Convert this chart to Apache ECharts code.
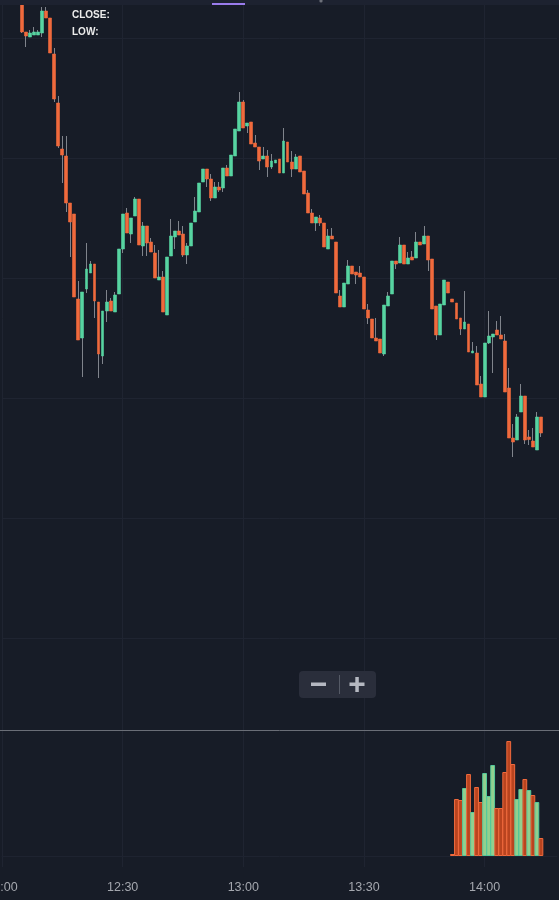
<!DOCTYPE html>
<html><head><meta charset="utf-8">
<script src="https://cdn.jsdelivr.net/npm/echarts@6/dist/echarts.min.js"></script>
<style>html,body{margin:0;padding:0;background:#171c27;}#c{width:559px;height:900px;}</style>
</head><body><div id="c"></div>
<script>
// ---- data ----
const firstMinute = '12:00';
const categoryCount = 139; // one category per minute, 12:00 .. 14:18
const tickLabels = ['12:00', '12:30', '13:00', '13:30', '14:00'];
const candleStart = '12:05';
const openP = [
  124.6,120.6,120.1,120.3,120.3,120.5,122.7,122.0,118.4,113.5,
  108.9,108.2,103.5,102.4,93.9,90.0,94.9,96.5,97.4,93.6,
  88.2,92.7,93.7,92.6,94.4,98.9,102.5,100.4,102.2,103.9,
  99.2,101.2,99.6,98.5,95.8,96.1,92.3,98.2,100.1,100.7,
  100.4,98.3,99.2,101.6,102.6,105.6,106.9,105.9,104.0,105.1,
  105.0,107.0,106.2,108.2,110.7,113.6,111.2,111.6,109.5,109.1,
  107.9,108.2,107.1,107.5,107.9,106.5,109.6,107.6,106.9,108.2,
  106.7,104.5,102.5,101.5,102.0,101.5,98.9,100.2,99.6,94.2,
  93.1,95.4,97.2,96.6,96.5,96.1,92.8,91.9,90.0,89.9,
  88.4,93.2,94.4,97.7,97.5,99.3,97.4,98.1,98.0,99.6,
  99.4,100.2,97.9,93.2,90.3,93.3,95.6,93.9,93.5,92.0,
  90.9,91.4,88.5,88.5,85.4,84.1,89.5,90.1,90.8,90.3,
  89.7,85.0,80.0,79.8,82.6,84.2,80.1,79.7,78.8,82.1
];
const closeP = [
  120.6,120.2,120.5,120.6,120.6,122.7,122.0,118.5,113.9,109.2,
  108.3,103.5,101.6,94.1,89.8,94.6,96.9,97.4,93.7,88.4,
  92.7,93.6,92.7,94.3,98.9,102.4,100.5,102.0,103.9,99.3,
  101.2,99.5,98.6,96.0,96.1,92.6,98.1,100.2,100.7,100.3,
  98.3,99.2,101.5,102.7,105.5,106.9,105.9,104.0,105.1,104.8,
  107.0,106.2,108.3,110.9,113.6,111.0,111.5,109.4,109.1,107.7,
  108.2,107.1,107.7,107.8,106.5,109.7,107.6,106.9,108.1,106.6,
  104.4,102.5,101.5,102.1,101.5,99.1,100.2,99.9,94.5,93.1,
  95.5,97.2,96.4,96.3,96.1,92.9,92.0,90.0,89.7,88.5,
  93.3,94.2,97.7,97.4,99.3,97.4,98.0,97.8,99.6,99.3,
  100.2,97.8,92.9,90.3,93.4,95.8,94.5,93.6,91.9,90.9,
  91.6,88.6,88.7,85.3,84.1,89.5,90.2,90.4,90.3,89.9,
  84.6,80.0,79.6,82.1,84.2,79.8,79.85,79.1,82.1,80.5
];
const lowP = [
  120.5,119.1,120.1,120.3,120.3,120.1,122.0,118.5,113.6,109.0,
  105.5,102.6,98.1,94.1,89.8,86.1,94.5,96.5,92.0,86.0,
  87.4,91.6,92.7,92.6,94.4,98.5,100.5,99.5,102.2,99.3,
  98.2,98.2,98.6,96.0,95.8,92.6,92.3,98.2,98.9,100.3,
  98.1,97.4,99.2,101.6,102.6,105.6,105.1,103.7,104.0,104.6,
  104.6,106.2,106.2,108.2,110.7,111.0,110.5,109.4,109.1,106.8,
  107.9,106.1,106.9,107.5,106.5,106.5,107.6,106.1,106.9,106.6,
  104.4,102.5,101.5,100.7,101.2,99.1,98.9,99.9,94.5,93.1,
  93.1,95.4,96.4,95.4,96.1,92.9,91.4,90.0,89.7,88.5,
  88.2,93.2,94.4,96.9,97.5,97.4,97.4,97.8,98.0,99.3,
  99.4,96.7,92.9,89.8,90.3,93.3,94.5,93.6,91.9,90.3,
  90.9,88.6,88.5,85.3,84.1,84.1,89.4,86.5,90.3,89.9,
  84.6,80.0,78.1,79.8,82.6,79.4,79.3,79.1,78.8,80.1
];
const highP = [
  125.3,120.6,120.8,121.1,120.8,123.1,123.1,122.0,119.0,114.2,
  110.2,110.2,103.5,102.4,95.7,94.6,99.5,97.7,97.4,93.6,
  92.7,94.8,94.0,94.6,98.9,102.4,103.0,102.0,104.1,103.9,
  101.6,101.2,100.0,99.3,98.8,96.7,98.1,101.9,100.7,101.7,
  101.2,99.5,101.5,104.1,105.5,106.9,106.9,106.4,105.6,105.6,
  107.0,107.3,108.3,110.9,114.6,113.8,111.5,111.6,110.3,109.1,
  109.1,108.8,108.4,107.8,107.9,111.0,109.6,108.7,108.4,108.2,
  106.7,104.8,102.9,102.1,102.3,101.5,100.9,101.0,99.6,94.8,
  95.5,97.8,97.2,96.6,97.2,96.1,93.4,91.9,92.0,89.9,
  93.3,94.6,97.7,97.7,100.1,99.3,98.6,98.7,100.6,99.6,
  101.2,100.2,97.9,93.2,93.4,95.8,95.6,93.9,93.5,92.0,
  94.7,91.4,89.6,89.2,86.2,89.5,92.7,90.4,91.7,92.2,
  90.4,87.0,81.4,82.4,85.4,84.2,80.8,81.0,82.6,82.1
];
const volumeStart = '13:52';
const volume = [20,570,560,680,820,440,690,540,830,600,910,480,480,840,1150,920,570,670,770,660,610,540,180];

// ---- build ----
const categories = [];
{
  const [h0, m0] = firstMinute.split(':').map(Number);
  for (let k = 0; k < categoryCount; k++) {
    const m = h0 * 60 + m0 + k;
    categories.push(String(Math.floor(m / 60)).padStart(2, '0') + ':' + String(m % 60).padStart(2, '0'));
  }
}
const ci = categories.indexOf(candleStart);
const vi = categories.indexOf(volumeStart);
const wickData = openP.map((o, j) => [ci + j, o, closeP[j], lowP[j], highP[j]]);
const bodyData = openP.map((o, j) => [ci + j, o, closeP[j], Math.min(o, closeP[j]), Math.max(o, closeP[j])]);

const UP = '#57d4a1', DOWN = '#f06a3d', WICK = '#80848c';
const volData = volume.map((v, j) => {
  const k = vi + j, c = k - ci;
  const up = closeP[c] >= closeP[c - 1];
  return {
    value: [k, v],
    itemStyle: up ? { color: '#93cf8e', borderColor: '#52c99b', borderWidth: 1 }
                  : { color: '#b9441f', borderColor: '#f06a3d', borderWidth: 1 }
  };
});

const GRID = '#1f2431';
const tickFn = (idx, val) => tickLabels.indexOf(val) >= 0;

const chart = echarts.init(document.getElementById('c'), null, { renderer: 'canvas' });
chart.setOption({
  backgroundColor: '#171c27',
  animation: false,
  grid: [
    { left: 2, right: 2, top: -82, bottom: 262, containLabel: false, outerBoundsMode: 'none' },
    { left: 2, right: 2, top: 636, bottom: 33, containLabel: false, outerBoundsMode: 'none' }
  ],
  xAxis: [
    { type: 'category', gridIndex: 0, data: categories, boundaryGap: false,
      axisLine: { show: false }, axisTick: { show: false }, axisLabel: { show: false },
      splitLine: { show: true, interval: tickFn, lineStyle: { color: GRID, width: 1 } } },
    { type: 'category', gridIndex: 1, data: categories, boundaryGap: false,
      axisLine: { show: true, lineStyle: { color: '#1e2330' } }, axisTick: { show: false },
      axisLabel: { show: true, interval: tickFn, color: '#a4a7ae', fontSize: 12.5,
        fontFamily: 'Liberation Sans, Arial, sans-serif', margin: 14 },
      splitLine: { show: true, interval: tickFn, lineStyle: { color: GRID, width: 1 } } }
  ],
  yAxis: [
    { type: 'value', gridIndex: 0, position: 'right', min: 60, max: 132, interval: 12,
      axisLine: { show: false }, axisTick: { show: false }, axisLabel: { show: false },
      splitLine: { show: true, lineStyle: { color: GRID, width: 1 } } },
    { type: 'value', gridIndex: 1, position: 'right', min: -110, max: 2200,
      axisLine: { show: false }, axisTick: { show: false }, axisLabel: { show: false },
      splitLine: { show: false } }
  ],
  series: [
    { type: 'candlestick', xAxisIndex: 0, yAxisIndex: 0, data: wickData,
      encode: { x: 0, y: [1, 2, 3, 4] }, barWidth: 1, clip: false,
      itemStyle: { color: WICK, color0: WICK, borderColor: WICK, borderColor0: WICK, borderWidth: 1 },
      emphasis: { disabled: true }, silent: true, z: 2 },
    { type: 'candlestick', xAxisIndex: 0, yAxisIndex: 0, data: bodyData,
      encode: { x: 0, y: [1, 2, 3, 4] }, barWidth: 3.4, clip: false,
      itemStyle: { color: UP, color0: DOWN, borderColor: UP, borderColor0: DOWN, borderWidth: 0.6 },
      emphasis: { disabled: true }, silent: true, z: 3 },
    { type: 'bar', xAxisIndex: 1, yAxisIndex: 1, data: volData, barWidth: 4.8,
      encode: { x: 0, y: 1 }, silent: true, z: 2 }
  ],
  graphic: [
    { type: 'rect', shape: { x: 0, y: 0, width: 559, height: 5 }, style: { fill: '#1d2230' }, z: 100 },
    { type: 'rect', shape: { x: 212, y: 3, width: 33, height: 2 }, style: { fill: '#9a7cec' }, z: 101 },
    { type: 'circle', shape: { cx: 321, cy: 1, r: 1.6 }, style: { fill: '#6c7079' }, z: 101 },
    { type: 'line', shape: { x1: 0, y1: 730.5, x2: 559, y2: 730.5 }, style: { stroke: '#6a6e77', lineWidth: 1 }, z: 100 },
    { type: 'text', x: 72, y: 15.5, style: { text: 'CLOSE:', fill: '#ececec', font: 'bold 10px "Liberation Sans", Arial, sans-serif', verticalAlign: 'middle' }, z: 101 },
    { type: 'text', x: 72, y: 32.5, style: { text: 'LOW:', fill: '#ececec', font: 'bold 10px "Liberation Sans", Arial, sans-serif', verticalAlign: 'middle' }, z: 101 },
    { type: 'rect', shape: { x: 299, y: 671, width: 77, height: 27, r: 4 }, style: { fill: '#2a2e3b' }, z: 100 },
    { type: 'rect', shape: { x: 311, y: 682.5, width: 15, height: 3.5 }, style: { fill: '#b5b8c1' }, z: 101 },
    { type: 'line', shape: { x1: 339.5, y1: 675, x2: 339.5, y2: 694 }, style: { stroke: '#555a66', lineWidth: 1 }, z: 101 },
    { type: 'rect', shape: { x: 349.5, y: 682.5, width: 15, height: 3.5 }, style: { fill: '#b5b8c1' }, z: 101 },
    { type: 'rect', shape: { x: 355.3, y: 677, width: 3.5, height: 15 }, style: { fill: '#b5b8c1' }, z: 101 }
  ]
});
</script></body></html>
